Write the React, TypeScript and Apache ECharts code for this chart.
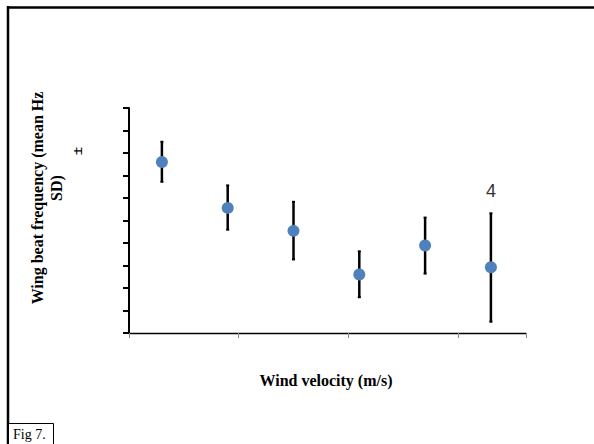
import React, { useEffect, useRef } from "react";
import * as echarts from "echarts";

const windVelocity = [0.3, 0.9, 1.5, 2.1, 2.7, 3.3];
const meanFreq = [7.6, 5.56, 4.54, 2.6, 3.89, 2.92];
const upperFreq = [8.5, 6.56, 5.83, 3.63, 5.13, 5.32];
const lowerFreq = [6.72, 4.59, 3.27, 1.59, 2.64, 0.5];
const yTitleLine1 = "Wing beat frequency (mean Hz";
const yTitleLine2 = "SD)";
const xTitle = "Wind velocity (m/s)";
const figLabel = "Fig 7.";
const sampleNote = "4";

const SERIF = "'Liberation Serif', 'DejaVu Serif', serif";

export default function App() {
  const ref = useRef<HTMLDivElement>(null);
  useEffect(() => {
    if (!ref.current) return;
    const chart = echarts.init(ref.current, null, { renderer: "svg" });
    const errData = windVelocity.map((x, i) => [x, lowerFreq[i], upperFreq[i]]);
    const ptData = windVelocity.map((x, i) => [x, meanFreq[i]]);
    chart.setOption({
      animation: false,
      backgroundColor: "#ffffff",
      grid: { left: 129, right: 68, top: 108, bottom: 111, containLabel: false },
      xAxis: {
        type: "value",
        min: 0,
        max: 3.62,
        interval: 1,
        axisLine: { show: true, onZero: false, lineStyle: { color: "#000", width: 1.3 } },
        axisTick: { show: true, inside: false, length: 5, lineStyle: { color: "#888", width: 1 } },
        axisLabel: { show: false },
        splitLine: { show: false },
      },
      yAxis: {
        type: "value",
        min: 0,
        max: 10,
        interval: 1,
        axisLine: { show: true, onZero: false, lineStyle: { color: "#000", width: 2 } },
        axisTick: { show: true, inside: false, length: 6, lineStyle: { color: "#000", width: 2 } },
        axisLabel: { show: false },
        splitLine: { show: false },
      },
      series: [
        {
          type: "custom",
          data: errData,
          z: 2,
          renderItem: (params: any, api: any) => {
            const x = api.value(0);
            const lo = api.coord([x, api.value(1)]);
            const hi = api.coord([x, api.value(2)]);
            const st = { stroke: "#000", lineWidth: 2.5 };
            return {
              type: "group",
              children: [
                { type: "line", shape: { x1: lo[0], y1: lo[1], x2: hi[0], y2: hi[1] }, style: st },
                { type: "line", shape: { x1: lo[0] - 1.5, y1: lo[1], x2: lo[0] + 1.5, y2: lo[1] }, style: { stroke: "#000", lineWidth: 2 } },
                { type: "line", shape: { x1: hi[0] - 1.5, y1: hi[1], x2: hi[0] + 1.5, y2: hi[1] }, style: { stroke: "#000", lineWidth: 2 } },
              ],
            };
          },
        },
        {
          type: "scatter",
          data: ptData,
          symbol: "circle",
          symbolSize: 12,
          z: 3,
          itemStyle: { color: "#4F81BD", opacity: 1 },
        },
      ],
      graphic: [
        { type: "line", shape: { x1: 7, y1: 7.5, x2: 594, y2: 7.5 }, style: { stroke: "#000", lineWidth: 2.5 } },
        { type: "line", shape: { x1: 8, y1: 6, x2: 8, y2: 444 }, style: { stroke: "#000", lineWidth: 2.5 } },
        { type: "rect", shape: { x: 8.5, y: 423.5, width: 45, height: 22 }, style: { fill: "#fff", stroke: "#000", lineWidth: 1 } },
        {
          type: "text",
          x: 13,
          y: 434,
          style: { text: figLabel, font: `14px ${SERIF}`, fill: "#000", textVerticalAlign: "middle", textAlign: "left" },
        },
        {
          type: "text",
          x: 37,
          y: 198,
          rotation: Math.PI / 2,
          style: { text: yTitleLine1, font: `bold 16px ${SERIF}`, fill: "#000", textAlign: "center", textVerticalAlign: "middle" },
        },
        {
          type: "text",
          x: 56,
          y: 188,
          rotation: Math.PI / 2,
          style: { text: yTitleLine2, font: `bold 16px ${SERIF}`, fill: "#000", textAlign: "center", textVerticalAlign: "middle" },
        },
        {
          type: "text",
          x: 77,
          y: 151,
          rotation: Math.PI / 2,
          style: { text: "±", font: `bold 15px ${SERIF}`, fill: "#000", textAlign: "center", textVerticalAlign: "middle" },
        },
        {
          type: "text",
          x: 326,
          y: 380,
          style: { text: xTitle, font: `bold 16px ${SERIF}`, fill: "#000", textAlign: "center", textVerticalAlign: "middle" },
        },
        {
          type: "text",
          x: 491,
          y: 191,
          style: { text: sampleNote, font: `18px 'Liberation Sans', Arial, sans-serif`, fill: "#333", textAlign: "center", textVerticalAlign: "middle" },
        },
      ],
    });
    return () => chart.dispose();
  }, []);
  return (
    <div
      ref={ref}
      style={{ position: "fixed", left: 0, top: 0, width: 594, height: 444, background: "#fff" }}
    />
  );
}
